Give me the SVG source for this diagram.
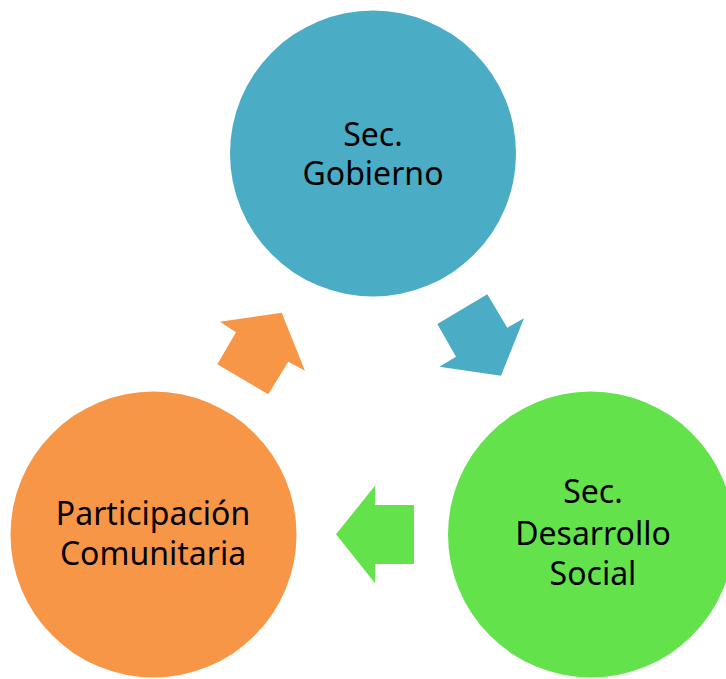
<svg xmlns="http://www.w3.org/2000/svg" width="726" height="679" viewBox="0 0 726 679">
<style>
.lbl{font-family:"Noto Sans","Open Sans","DejaVu Sans",sans-serif;font-size:32px;fill:#000;text-anchor:middle}
</style>
<rect width="726" height="679" fill="#fff"/>
<g id="connectors">
<polygon fill="#4BACC6" points="437.3,324 487.3,294.3 507.3,327.7 524,318.3 501,375.7 439.3,366.7 456,356.7"/>
<polygon fill="#63E24B" points="336,534.3 375,485.7 375,505 414,505 414,564 375,564 375,583.3"/>
<polygon fill="#F79646" points="220,321.7 281.7,312.7 305,370.7 288.3,361.7 268.3,394.3 217.3,364.3 236,332.3"/>
</g>
<g id="gobierno">
<circle cx="373" cy="153.5" r="143" fill="#4BACC6"/>
<text class="lbl" x="373" y="146">Sec.</text>
<text class="lbl" x="373" y="185">Gobierno</text>
</g>
<g id="desarrollo">
<circle cx="591" cy="534.5" r="143" fill="#63E24B"/>
<text class="lbl" x="593" y="503">Sec.</text>
<text class="lbl" x="593" y="545">Desarrollo</text>
<text class="lbl" x="593" y="585">Social</text>
</g>
<g id="participacion">
<circle cx="153.5" cy="534.5" r="143" fill="#F79646"/>
<text class="lbl" x="153" y="525">Participación</text>
<text class="lbl" x="153" y="565">Comunitaria</text>
</g>
</svg>
